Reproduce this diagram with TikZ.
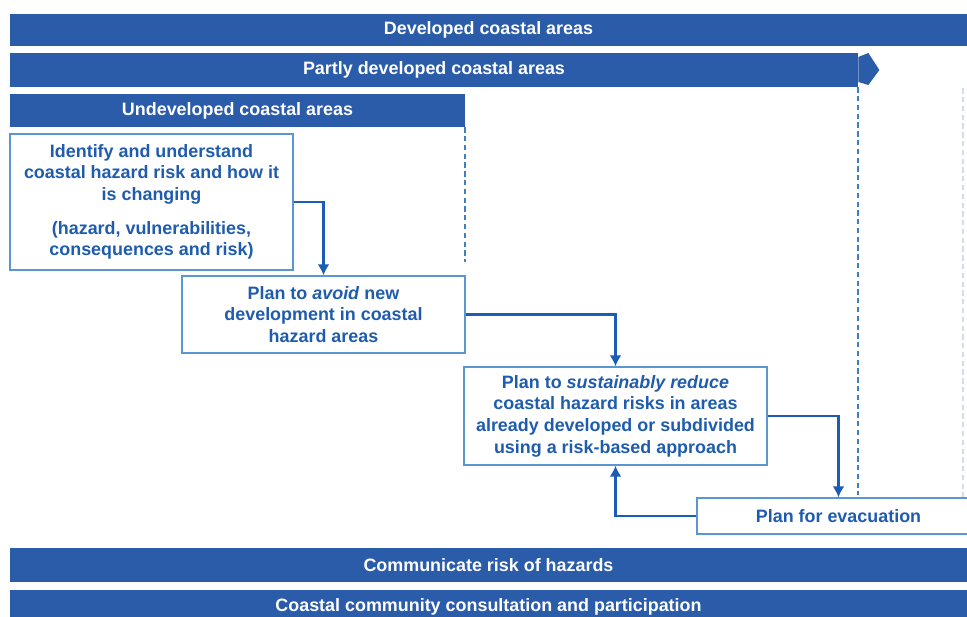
\documentclass[tikz,border=0pt]{standalone}
\usepackage{fontspec}
\setmainfont{Liberation Sans}
\usetikzlibrary{arrows.meta,positioning}
\definecolor{barblue}{HTML}{2A5CAA}
\definecolor{boxline}{HTML}{5A96D2}
\definecolor{textblue}{HTML}{1F5CAE}
\definecolor{linkblue}{HTML}{1D5CB4}
\definecolor{dashblue}{HTML}{3F7FC0}

\begin{document}
\begin{tikzpicture}[x=0.02cm,y=-0.02cm,
  bar/.style={fill=barblue,text=white,font=\fontsize{10.2}{12}\selectfont\bfseries,
    inner sep=0pt,minimum height={33*0.02cm}},
  stage/.style={draw=boxline,line width=0.8pt,fill=white,text=textblue,
    font=\fontsize{10.2}{12.3}\selectfont\bfseries,align=center,inner sep=0pt,
    minimum width={283*0.02cm}},
  link/.style={draw=linkblue,line width=1.7pt,-{Latex[length=2.2mm,width=2.4mm]}},
  guide/.style={draw=dashblue,densely dashed,line width=1pt}]

  % page
  \fill[white] (0,0) rectangle (967,617);
  \useasboundingbox (0,0) rectangle (967,617);

  % area bars
  \node[bar,minimum width={957*0.02cm},minimum height={32*0.02cm}] (dev) at (488.5,30) {Developed coastal areas};
  \node[bar,minimum width={848*0.02cm},minimum height={34*0.02cm}] (partly) at (434,70) {Partly developed coastal areas};
  \fill[barblue] (partly.east) ++(0,-13) -- ++(10,-4) -- ++(11,17) -- ++(-11,15) -- ++(-10,-3) -- cycle;
  \node[bar,minimum width={455*0.02cm}] (undev) at (237.5,110.5) {Undeveloped coastal areas};

  % extent of the areas
  \draw[guide] (undev.south east) -- ++(0,135);
  \draw[guide] (partly.south east) -- ++(0,408);
  \draw[guide,draw=dashblue!25] (dev.south east) ++(-4,42) -- ++(0,440);

  % planning steps
  \node[stage,minimum height={136*0.02cm}] (ident) at (151.5,202)
    {Identify and understand\\coastal hazard risk and how it\\is changing\\[7pt]
     (hazard, vulnerabilities,\\consequences and risk)};
  \node[stage,minimum height={77*0.02cm}] (avoid) at (323.5,314.5)
    {Plan to \textit{avoid} new\\development in coastal\\hazard areas};
  \node[stage,minimum width={303*0.02cm},minimum height={98*0.02cm}] (reduce) at (615.5,416)
    {Plan to \textit{sustainably reduce}\\coastal hazard risks in areas\\already developed or subdivided\\using a risk-based approach};
  \node[stage,minimum height={36*0.02cm}] (evac) at (838.5,516) {Plan for evacuation};

  % flow
  \draw[link] (ident.east) -| (avoid.north);
  \draw[link] (avoid.east) -| (reduce.north);
  \draw[link] (reduce.east) -| (evac.north);
  \draw[link] (evac.west) -| (reduce.south);

  % across all areas
  \node[bar,minimum width={957*0.02cm},minimum height={34*0.02cm}] (comm) at (488.5,565) {Communicate risk of hazards};
  \node[bar,minimum width={957*0.02cm},minimum height={34*0.02cm}] (consult) at (488.5,607) {Coastal community consultation and participation};
\end{tikzpicture}
\end{document}
